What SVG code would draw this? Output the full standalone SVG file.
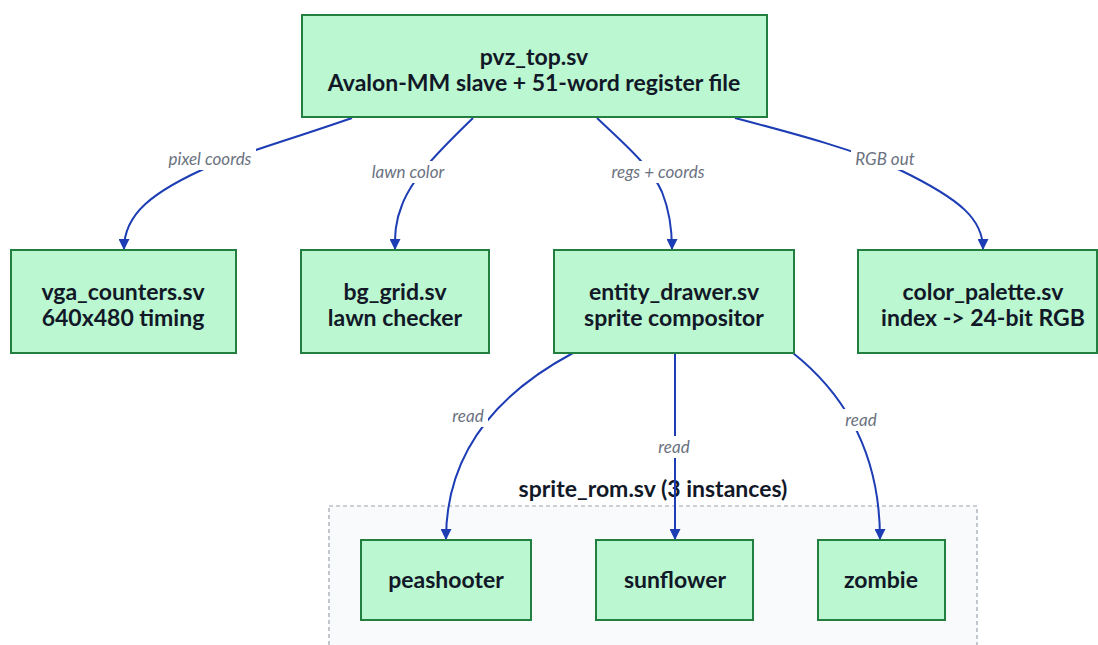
<svg xmlns="http://www.w3.org/2000/svg" width="1098" height="645" viewBox="0 0 1098 645">
<style>
.node rect{fill:#bbf7d0;stroke:#237f3f;stroke-width:2}
.node text{font-family:Lato,"Noto Sans",sans-serif;font-weight:bold;font-size:23px;fill:#111827;text-anchor:middle}
.edge{fill:none;stroke:#1d3db5;stroke-width:2;marker-end:url(#arr)}
.lbl{font-family:Lato,"Noto Sans",sans-serif;font-style:italic;font-size:17px;fill:#6b7280;text-anchor:middle}
.lblbg{fill:#ffffff}
</style>
<defs>
<marker id="arr" viewBox="0 0 10 10" refX="9" refY="5" markerWidth="11" markerHeight="11" markerUnits="userSpaceOnUse" orient="auto">
<path d="M0,0 L10,5 L0,10 z" fill="#1d3db5"/>
</marker>
</defs>
<rect width="1098" height="645" fill="#ffffff"/>
<g id="cluster-sprite_rom">
<rect x="329" y="506" width="648" height="160" fill="#f8fafc" stroke="#9ca3af" stroke-width="1.2" stroke-dasharray="4 3"/>
<text x="653" y="497" style="font-family:Lato,'Noto Sans',sans-serif;font-weight:bold;font-size:23px;fill:#111827;text-anchor:middle">sprite_rom.sv (3 instances)</text>
</g>
<g id="connectors">
<path class="edge" d="M352,118 C300,136 260,148 215,164 C150,192 124,215 124,249"/>
<path class="edge" d="M473,118 C440,150 412,178 402,205 C395,222 395,235 395,249"/>
<path class="edge" d="M597,118 C622,142 650,165 662,192 C670,212 672,230 672,249"/>
<path class="edge" d="M735,118 C800,135 855,150 900,170 C962,200 983,220 983,249"/>
<path class="edge" d="M573,353 C500,392 446,450 446,539"/>
<path class="edge" d="M675,353 L675,539"/>
<path class="edge" d="M793,353 C842,392 880,450 880,539"/>
<rect class="lblbg" x="164" y="148" width="92" height="22"/>
<text class="lbl" x="210" y="165">pixel coords</text>
<rect class="lblbg" x="366" y="161" width="84" height="22"/>
<text class="lbl" x="408" y="178">lawn color</text>
<rect class="lblbg" x="606" y="161" width="104" height="22"/>
<text class="lbl" x="658" y="178">regs + coords</text>
<rect class="lblbg" x="851" y="148" width="68" height="22"/>
<text class="lbl" x="885" y="165">RGB out</text>
<rect class="lblbg" x="448" y="405" width="40" height="22"/>
<text class="lbl" x="468" y="422">read</text>
<rect class="lblbg" x="654" y="436" width="40" height="22"/>
<text class="lbl" x="674" y="453">read</text>
<rect class="lblbg" x="841" y="409" width="40" height="22"/>
<text class="lbl" x="861" y="426">read</text>
</g>
<g id="pvz_top" class="node">
<rect x="302" y="15" width="465" height="102"/>
<text x="534" y="65">pvz_top.sv</text>
<text x="534" y="91">Avalon-MM slave + 51-word register file</text>
</g>
<g id="vga_counters" class="node">
<rect x="11" y="250" width="225" height="103"/>
<text x="123" y="300">vga_counters.sv</text>
<text x="123" y="326">640x480 timing</text>
</g>
<g id="bg_grid" class="node">
<rect x="301" y="250" width="188" height="103"/>
<text x="395" y="300">bg_grid.sv</text>
<text x="395" y="326">lawn checker</text>
</g>
<g id="entity_drawer" class="node">
<rect x="554" y="250" width="240" height="103"/>
<text x="674" y="300">entity_drawer.sv</text>
<text x="674" y="326">sprite compositor</text>
</g>
<g id="color_palette" class="node">
<rect x="858" y="250" width="239" height="103"/>
<text x="983" y="300">color_palette.sv</text>
<text x="983" y="326">index -&gt; 24-bit RGB</text>
</g>
<g id="peashooter" class="node">
<rect x="361" y="540" width="170" height="80"/>
<text x="446" y="588">peashooter</text>
</g>
<g id="sunflower" class="node">
<rect x="596" y="540" width="157" height="80"/>
<text x="675" y="588">sunflower</text>
</g>
<g id="zombie" class="node">
<rect x="818" y="540" width="127" height="80"/>
<text x="881" y="588">zombie</text>
</g>
</svg>
